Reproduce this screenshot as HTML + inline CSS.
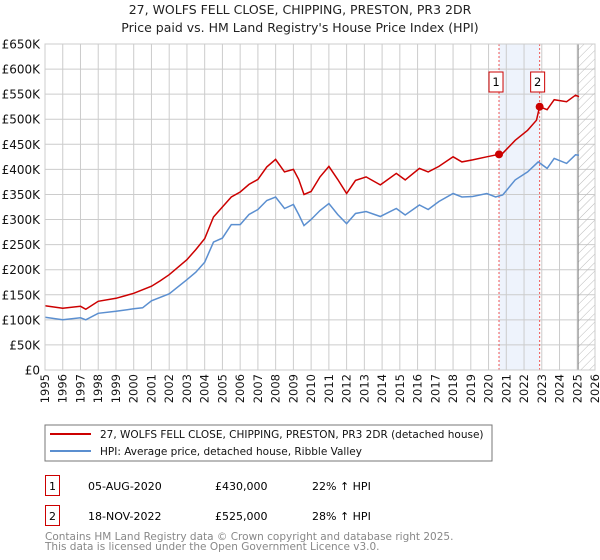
<!DOCTYPE html>
<html><head><meta charset="utf-8"><style>
body{margin:0;background:#fff;}
svg{display:block;font-family:"DejaVu Sans","Liberation Sans",sans-serif;}
</style></head><body>
<svg id="chart" width="600" height="560" viewBox="0 0 600 560">
<defs><pattern id="hatch" width="6" height="6" patternUnits="userSpaceOnUse" patternTransform="rotate(45)"><line x1="0" y1="0" x2="0" y2="6" stroke="#bbb" stroke-width="1"/></pattern></defs>
<text x="300" y="14" text-anchor="middle" font-size="12.5" fill="#222">27, WOLFS FELL CLOSE, CHIPPING, PRESTON, PR3 2DR</text>
<text x="300" y="32" text-anchor="middle" font-size="12.5" fill="#222">Price paid vs. HM Land Registry's House Price Index (HPI)</text>
<g id="grid"></g><g id="marks"></g><g id="axes"></g>
<rect x="45" y="425" width="447" height="36" fill="#fff" stroke="#777"/>
<line x1="50" y1="434" x2="91" y2="434" stroke="#cc0000" stroke-width="2"/>
<text x="100" y="438" font-size="10.5" fill="#111">27, WOLFS FELL CLOSE, CHIPPING, PRESTON, PR3 2DR (detached house)</text>
<line x1="50" y1="451" x2="91" y2="451" stroke="#5b8fd0" stroke-width="2"/>
<text x="100" y="455" font-size="10.5" fill="#111">HPI: Average price, detached house, Ribble Valley</text>
<rect x="45.5" y="475.5" width="14" height="20" fill="#fff" stroke="#cc0000"/>
<text x="52.5" y="490" text-anchor="middle" font-size="11">1</text>
<text x="88" y="490" font-size="11">05-AUG-2020</text>
<text x="215" y="490" font-size="11">£430,000</text>
<text x="312" y="490" font-size="11">22% ↑ HPI</text>
<rect x="45.5" y="505.5" width="14" height="20" fill="#fff" stroke="#cc0000"/>
<text x="52.5" y="520" text-anchor="middle" font-size="11">2</text>
<text x="88" y="520" font-size="11">18-NOV-2022</text>
<text x="215" y="520" font-size="11">£525,000</text>
<text x="312" y="520" font-size="11">28% ↑ HPI</text>
<text x="45" y="540" font-size="10.5" fill="#888">Contains HM Land Registry data © Crown copyright and database right 2025.</text>
<text x="45" y="550" font-size="10.5" fill="#888">This data is licensed under the Open Government Licence v3.0.</text>
</svg>
<script>
const hpiYears=[1995,1996,1997,1997.3,1998,1999,2000,2000.5,2001,2002,2003,2003.5,2004,2004.5,2005,2005.5,2006,2006.5,2007,2007.5,2008,2008.5,2009,2009.3,2009.6,2010,2010.5,2011,2011.5,2012,2012.5,2013.1,2013.9,2014.8,2015.3,2016.1,2016.6,2017.2,2018,2018.5,2019.1,2019.9,2020.4,2020.8,2021.5,2022.2,2022.8,2023.3,2023.7,2024.4,2024.9,2025.1];
const hpiValues=[105,100,104,100,113,117,122,124,138,152,180,195,215,255,263,290,290,310,320,338,345,322,330,310,288,300,318,332,310,292,312,316,306,322,309,329,320,336,352,345,346,352,345,349,379,395,415,402,422,412,429,428];
const priceYears=[1995,1996,1997,1997.3,1998,1999,2000,2001,2001.5,2002,2003,2003.5,2004,2004.5,2005,2005.5,2006,2006.5,2007,2007.5,2008,2008.5,2009,2009.3,2009.6,2010,2010.5,2011,2011.5,2012,2012.5,2013.1,2013.9,2014.8,2015.3,2016.1,2016.6,2017.2,2018,2018.5,2019.1,2019.9,2020.59,2020.8,2021.5,2022.2,2022.7,2022.88,2023.3,2023.7,2024.4,2024.9,2025.1];
const priceValues=[128,123,127,121,137,143,153,167,178,190,220,240,262,305,325,345,355,370,380,405,420,395,400,380,350,356,385,406,380,352,378,385,369,392,379,402,395,406,425,415,419,425,430,432,458,478,498,525,519,539,535,548,545];
const saleYears=[2020.59,2022.88];
const saleValues=[430,525];
const saleLabels=["1","2"];
const yTicks=[0,50,100,150,200,250,300,350,400,450,500,550,600,650];
const yTickLabels=["£0","£50K","£100K","£150K","£200K","£250K","£300K","£350K","£400K","£450K","£500K","£550K","£600K","£650K"];
const xTicks=[1995,1996,1997,1998,1999,2000,2001,2002,2003,2004,2005,2006,2007,2008,2009,2010,2011,2012,2013,2014,2015,2016,2017,2018,2019,2020,2021,2022,2023,2024,2025,2026];
const NS="http://www.w3.org/2000/svg";
const L=45,R=595,T=44,B=370;
const xS=y=>L+(y-1995)/(2026-1995)*(R-L);
const yS=v=>B-v/650*(B-T);
function mk(tag,attrs,parent){const e=document.createElementNS(NS,tag);for(const k in attrs)e.setAttribute(k,attrs[k]);parent.appendChild(e);return e;}
const grid=document.getElementById('grid'),marks=document.getElementById('marks'),axes=document.getElementById('axes');
let sh=mk('rect',{x:xS(saleYears[0]),y:T,width:xS(saleYears[1])-xS(saleYears[0]),height:B-T,fill:'#eef3fc'},grid);


xTicks.forEach(t=>{let g=mk('line',{x1:xS(t),x2:xS(t),y1:T,y2:B,stroke:'#ccc','stroke-width':1},grid);


let tx=mk('text',{x:0,y:0,'font-size':11.5,'text-anchor':'end',fill:'#111',transform:`translate(${xS(t)+4},${B+4}) rotate(-90)`},axes);tx.textContent=t;

});
yTicks.forEach((t,i)=>{let g=mk('line',{x1:L,x2:R,y1:yS(t),y2:yS(t),stroke:'#ccc','stroke-width':1},grid);


let tx=mk('text',{x:40,y:yS(t)+4.5,'font-size':12,'text-anchor':'end',fill:'#111'},axes);tx.textContent=yTickLabels[i];

});
let hx=xS(2025.05);
let ht=mk('rect',{x:hx,y:T,width:R-hx,height:B-T,fill:'url(#hatch)'},grid);


let hl=mk('line',{x1:hx,x2:hx,y1:T,y2:B,stroke:'#888','stroke-width':1},grid);


saleYears.forEach((s,i)=>{let d=mk('line',{x1:xS(s),x2:xS(s),y1:T,y2:B,stroke:'#ee5555','stroke-width':1,'stroke-dasharray':'2,2'},grid);

});
const pts=(xs,vs)=>xs.map((x,i)=>xS(x).toFixed(1)+','+yS(vs[i]).toFixed(1)).join(' ');
let hp=mk('polyline',{points:pts(hpiYears,hpiValues),fill:'none',stroke:'#5b8fd0','stroke-width':1.5},marks);


let pp=mk('polyline',{points:pts(priceYears,priceValues),fill:'none',stroke:'#cc0000','stroke-width':1.5},marks);


saleYears.forEach((s,i)=>{let c=mk('circle',{cx:xS(s),cy:yS(saleValues[i]),r:4,fill:'#cc0000'},marks);


let b=mk('rect',{x:xS(s)-7-(i==0?3:2),y:72,width:14,height:20,fill:'#fff',stroke:'#cc0000'},marks);


let t=mk('text',{x:xS(s)-(i==0?3:2),y:86,'font-size':11.5,'text-anchor':'middle'},marks);t.textContent=saleLabels[i];

});
let ax=mk('rect',{x:L,y:T,width:R-L,height:B-T,fill:'none',stroke:'#ccc'},axes);


</script>
</body></html>
